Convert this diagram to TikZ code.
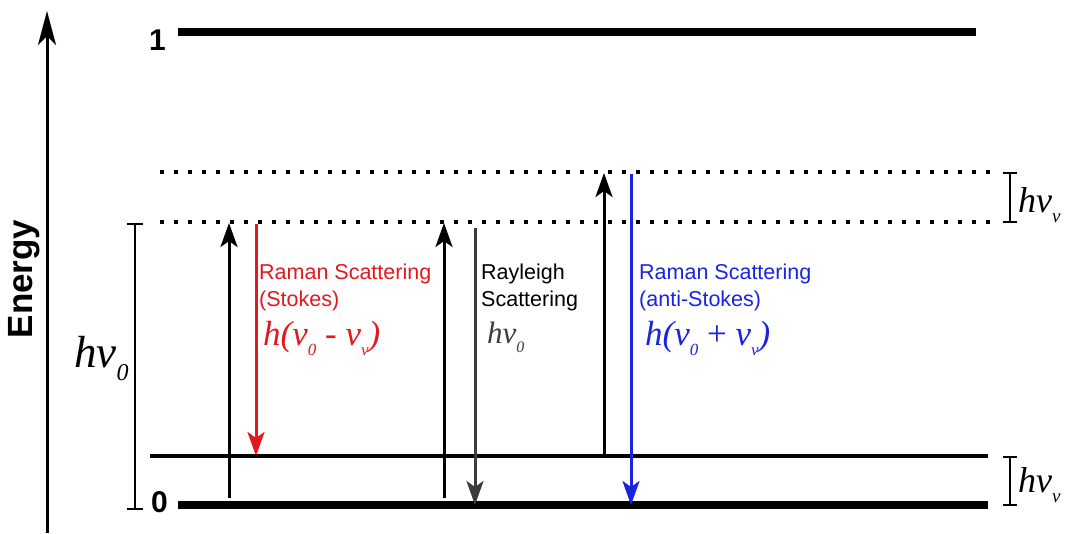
\documentclass[tikz,border=0pt]{standalone}
\usepackage{fontspec}
\setmainfont{Liberation Sans}
\newfontfamily\tms{Liberation Serif}
\usetikzlibrary{arrows.meta}
\definecolor{rred}{RGB}{225,25,30}
\definecolor{rblue}{RGB}{25,35,225}
\definecolor{rgray}{RGB}{60,60,60}
\tikzset{
  level/.style={line width=8pt},
  vib/.style={line width=3.2pt},
  dots/.style={line width=3.8pt,dash pattern=on 3.8pt off 10.2pt},
  photon/.style={line width=3pt,-{Stealth[length=24pt,width=17pt,inset=6pt]}},
  brk/.style={line width=2.6pt},
  lab/.style={anchor=base west,inner sep=0pt,font=\fontsize{21.5}{25}\selectfont},
  frm/.style={anchor=base west,inner sep=0pt,font=\tms\itshape\fontsize{35}{38}\selectfont},
  lvl/.style={anchor=base west,inner sep=0pt,font=\bfseries\fontsize{30}{34}\selectfont},
}
\newcommand{\sbs}[1]{\raisebox{-0.3em}{\fontsize{17}{17}\selectfont #1}}
\begin{document}
\begin{tikzpicture}[x=1pt,y=-1pt]
\useasboundingbox (0,0) rectangle (1068,533);
% energy axis
\coordinate (ea) at (47,533);
\coordinate (eb) at (47,11);
\draw[line width=3pt,-{Stealth[length=34pt,width=18pt,inset=9pt]}] (ea) -- (eb);
\node[rotate=90,inner sep=0pt,font=\bfseries\fontsize{35}{38}\selectfont] (energy) at (24,279) {Energy};
% levels
\coordinate (l1a) at (178,32); \coordinate (l1b) at (976,32);
\coordinate (l0a) at (178,505); \coordinate (l0b) at (988,505);
\coordinate (lva) at (150,456); \coordinate (lvb) at (988,456);
\coordinate (d1a) at (160,172); \coordinate (d1b) at (992,172);
\coordinate (d2a) at (160,222); \coordinate (d2b) at (992,222);
\draw[level] (l1a) -- (l1b);
\draw[level] (l0a) -- (l0b);
\draw[vib] (lva) -- (lvb);
\draw[dots] (d1a) -- (d1b);
\draw[dots] (d2a) -- (d2b);
\node[lvl] (one) at (149,50) {1};
\node[lvl] (zero) at (151,512) {0};
% left bracket
\coordinate (bla) at (135,224); \coordinate (blb) at (135,509);
\draw[brk] (bla) -- (blb);
\draw[brk] ([xshift=-8pt]bla) -- ([xshift=8pt]bla);
\draw[brk] ([xshift=-8pt]blb) -- ([xshift=8pt]blb);
\node[frm,font=\tms\itshape\fontsize{45}{48}\selectfont] (hv0l) at (74,367) {hv\raisebox{-0.3em}{\fontsize{24}{24}\selectfont 0}};
% right brackets
\coordinate (bra) at (1010,173); \coordinate (brb) at (1010,222);
\coordinate (brc) at (1010,457); \coordinate (brd) at (1010,505);
\draw[brk] (bra) -- (brb);
\draw[brk] ([xshift=-7pt]bra) -- ([xshift=7pt]bra);
\draw[brk] ([xshift=-7pt]brb) -- ([xshift=7pt]brb);
\draw[brk] (brc) -- (brd);
\draw[brk] ([xshift=-7pt]brc) -- ([xshift=7pt]brc);
\draw[brk] ([xshift=-7pt]brd) -- ([xshift=7pt]brd);
\node[frm,font=\tms\itshape\fontsize{36}{40}\selectfont] (hvv1) at (1018,212) {hv\raisebox{-0.3em}{\fontsize{19}{19}\selectfont v}};
\node[frm,font=\tms\itshape\fontsize{36}{40}\selectfont] (hvv2) at (1018,492) {hv\raisebox{-0.3em}{\fontsize{19}{19}\selectfont v}};
% photons
\coordinate (a1s) at (229,498); \coordinate (a1e) at (229,223);
\coordinate (r1s) at (256,224); \coordinate (r1e) at (256,456);
\coordinate (a2s) at (444,498); \coordinate (a2e) at (444,223);
\coordinate (g1s) at (475,228); \coordinate (g1e) at (475,505);
\coordinate (a3s) at (604,456); \coordinate (a3e) at (604,173);
\coordinate (b1s) at (631,174); \coordinate (b1e) at (631,505);
\draw[photon] (a1s) -- (a1e);
\draw[photon,rred] (r1s) -- (r1e);
\draw[photon] (a2s) -- (a2e);
\draw[photon,rgray] (g1s) -- (g1e);
\draw[photon] (a3s) -- (a3e);
\draw[photon,rblue] (b1s) -- (b1e);
% texts
\node[lab,text=rred] (st1) at (259,279) {Raman Scattering};
\node[lab,text=rred] (st2) at (259,306) {(Stokes)};
\node[frm,text=rred] (st3) at (263,345) {h(v\sbs{0} {\upshape -} v\sbs{v})};
\node[lab] (ry1) at (481,279) {Rayleigh};
\node[lab] (ry2) at (481,306) {Scattering};
\node[frm,text=rgray,font=\tms\itshape\fontsize{31}{34}\selectfont] (ry3) at (487,343) {hv\raisebox{-0.3em}{\fontsize{16}{16}\selectfont 0}};
\node[lab,text=rblue] (as1) at (639,279) {Raman Scattering};
\node[lab,text=rblue] (as2) at (639,306) {(anti-Stokes)};
\node[frm,text=rblue] (as3) at (645,345) {h(v\sbs{0} {\upshape +} v\sbs{v})};
\end{tikzpicture}
\end{document}
